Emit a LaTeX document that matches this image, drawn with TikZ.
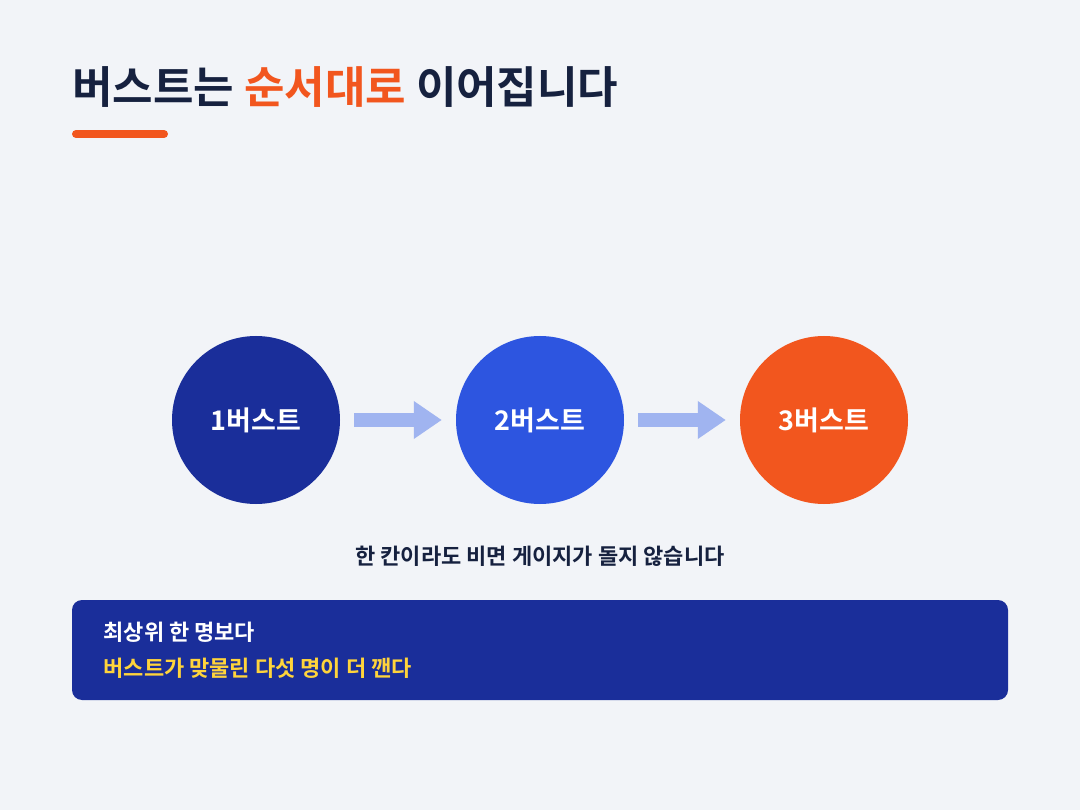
\documentclass[tikz,border=0pt]{standalone}
\usepackage{fontspec}
\setmainfont{Noto Sans CJK KR}[BoldFont={Noto Sans CJK KR Bold}]
\usetikzlibrary{arrows.meta}
\definecolor{bgc}{HTML}{F2F4F8}
\definecolor{ink}{HTML}{16213F}
\definecolor{accent}{HTML}{F2561E}
\definecolor{navy}{HTML}{1A2E9A}
\definecolor{royal}{HTML}{2D55E0}
\definecolor{pale}{HTML}{A0B4F0}
\definecolor{gold}{HTML}{FFD43B}
\tikzset{
  burst/.style={circle,minimum size=168pt,inner sep=0pt,text=white,font=\bfseries\fontsize{27}{30}\selectfont},
  flow/.style={line width=14pt,pale,-{Triangle[length=28pt,width=36pt]}}
}
\begin{document}
\begin{tikzpicture}[x=1pt,y=-1pt]
\fill[bgc] (0,0) rectangle (1080,810);

% Title
\node[anchor=base west,inner sep=0pt,text=ink,font=\bfseries\fontsize{44}{48}\selectfont] (title) at (72,104)
  {버스트는 \textcolor{accent}{순서대로} 이어집니다};
\draw[accent,line width=8pt,line cap=round] (76,134) -- (164,134);

% Bursts
\node[burst,fill=navy]  (b1) at (256,420) {1버스트};
\node[burst,fill=royal] (b2) at (540,420) {2버스트};
\node[burst,fill=accent] (b3) at (824,420) {3버스트};
\draw[flow] ([xshift=14pt]b1.east) -- ([xshift=-14pt]b2.west);
\draw[flow] ([xshift=14pt]b2.east) -- ([xshift=-14pt]b3.west);

\node[text=ink,font=\bfseries\fontsize{22}{26}\selectfont] (note) at (540,556) {한 칸이라도 비면 게이지가 돌지 않습니다};

% Box
\fill[navy,rounded corners=10pt] (72,600) rectangle (1008,700);
\node[anchor=west,text=white,font=\bfseries\fontsize{22}{26}\selectfont] (l1) at (100,632) {최상위 한 명보다};
\node[anchor=west,text=gold,font=\bfseries\fontsize{22}{26}\selectfont] (l2) at (100,668) {버스트가 맞물린 다섯 명이 더 깬다};
\end{tikzpicture}
\end{document}
